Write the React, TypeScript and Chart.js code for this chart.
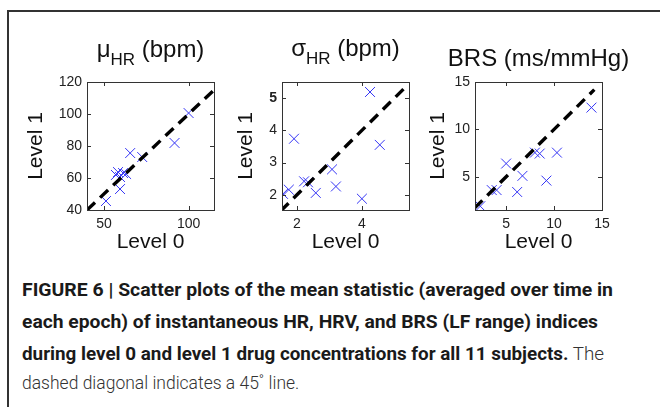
import React, { useEffect, useLayoutEffect, useRef } from 'react';
import { Chart, registerables } from 'chart.js';

Chart.register(...registerables);

// ---------- data ----------
const hrLevel0 = [51.2, 59.5, 57.1, 58.3, 59.5, 61.3, 63.1, 65.5, 72.6, 91.7, 100.0];
const hrLevel1 = [45.6, 53.1, 61.9, 63.7, 60.6, 63.1, 62.5, 75.6, 73.1, 81.9, 100.6];
const hrXTicks = [50, 100];
const hrYTicks = [40, 60, 80, 100, 120];
const hrDiag = [40, 115];

const hrvLevel0 = [1.57, 1.75, 1.91, 2.22, 2.34, 2.58, 3.08, 3.2, 4.0, 4.25, 4.55];
const hrvLevel1 = [2.03, 2.16, 3.74, 2.42, 2.39, 2.06, 2.79, 2.26, 1.88, 5.19, 3.55];
const hrvXTicks = [2, 4];
const hrvYTicks = [2, 3, 4, 5];
const hrvDiag = [1.5, 5.3];

const brsLevel0 = [2.3, 3.5, 4.0, 5.0, 6.15, 6.7, 8.0, 8.5, 9.2, 10.3, 13.9];
const brsLevel1 = [1.9, 3.6, 3.6, 6.4, 3.4, 5.1, 7.55, 7.45, 4.6, 7.55, 12.3];
const brsXTicks = [5, 10, 15];
const brsYTicks = [5, 10, 15];
const brsDiag = [1.7, 14.2];

const xAxisLabel = 'Level 0';
const yAxisLabel = 'Level 1';

const FONT = "'Liberation Sans', Arial, Helvetica, sans-serif";

type Panel = {
  title: { main: string; sub: string; rest: string };
  xs: number[];
  ys: number[];
  xTicks: number[];
  yTicks: number[];
  diag: number[];
  xMin: number; xMax: number; yMin: number; yMax: number;
  boxLeft: number;
  yTitlePad: number;
  titleBaseline: number;
  boldY?: number;
};

const panels: Panel[] = [
  {
    title: { main: 'μ', sub: 'HR', rest: ' (bpm)' },
    xs: hrLevel0, ys: hrLevel1, xTicks: hrXTicks, yTicks: hrYTicks, diag: hrDiag,
    xMin: 40, xMax: 115, yMin: 40, yMax: 120,
    boxLeft: 87, yTitlePad: 7, titleBaseline: 57,
  },
  {
    title: { main: 'σ', sub: 'HR', rest: ' (bpm)' },
    xs: hrvLevel0, ys: hrvLevel1, xTicks: hrvXTicks, yTicks: hrvYTicks, diag: hrvDiag,
    xMin: 1.54, xMax: 5.45, yMin: 1.53, yMax: 5.5,
    boxLeft: 282, yTitlePad: 22, titleBaseline: 56, boldY: 5,
  },
  {
    title: { main: 'BRS (ms/mmHg)', sub: '', rest: '' },
    xs: brsLevel0, ys: brsLevel1, xTicks: brsXTicks, yTicks: brsYTicks, diag: brsDiag,
    xMin: 1.75, xMax: 15, yMin: 1.5, yMax: 15,
    boxLeft: 475, yTitlePad: 21, titleBaseline: 66,
  },
];

const CANVAS_TOP = 20;
const Y_AXIS_W = 70;
const X_AXIS_H = 50;
const PAD_RIGHT = 45;
const CANVAS_W = Y_AXIS_W + 127 + PAD_RIGHT;
const CANVAS_H = 240;

function PanelChart({ p }: { p: Panel }) {
  const ref = useRef<HTMLCanvasElement>(null);
  useEffect(() => {
    if (!ref.current) return;
    const framePlugin = {
      id: 'frame',
      afterDatasetsDraw(chart: any) {
        const { ctx, chartArea: a } = chart;
        const xs = chart.scales.x;
        const ys = chart.scales.y;
        ctx.save();
        ctx.strokeStyle = '#333';
        ctx.lineWidth = 1;
        ctx.strokeRect(Math.round(a.left) + 0.5, Math.round(a.top) + 0.5, Math.round(a.right - a.left), Math.round(a.bottom - a.top));
        const tl = 4;
        ctx.beginPath();
        xs.ticks.forEach((t: any) => {
          const px = Math.round(xs.getPixelForValue(t.value)) + 0.5;
          ctx.moveTo(px, a.bottom); ctx.lineTo(px, a.bottom - tl);
          ctx.moveTo(px, a.top); ctx.lineTo(px, a.top + tl);
        });
        ys.ticks.forEach((t: any) => {
          const py = Math.round(ys.getPixelForValue(t.value)) + 0.5;
          ctx.moveTo(a.left, py); ctx.lineTo(a.left + tl, py);
          ctx.moveTo(a.right, py); ctx.lineTo(a.right - tl, py);
        });
        ctx.stroke();
        // title with subscript
        const cx = (a.left + a.right) / 2;
        const by = p.titleBaseline - CANVAS_TOP;
        ctx.fillStyle = '#111';
        ctx.textBaseline = 'alphabetic';
        ctx.textAlign = 'left';
        const mainFont = `24px ${FONT}`;
        const subFont = `17px ${FONT}`;
        ctx.font = mainFont;
        const wMain = ctx.measureText(p.title.main).width;
        const wRest = ctx.measureText(p.title.rest).width;
        ctx.font = subFont;
        const wSub = ctx.measureText(p.title.sub).width;
        let x = cx - (wMain + wSub + wRest) / 2;
        ctx.font = mainFont;
        ctx.fillText(p.title.main, x, by);
        x += wMain;
        ctx.font = subFont;
        ctx.fillText(p.title.sub, x, by + 8);
        x += wSub;
        ctx.font = mainFont;
        ctx.fillText(p.title.rest, x, by);
        ctx.restore();
      },
    };
    const chart = new Chart(ref.current, {
      type: 'scatter',
      data: {
        datasets: [
          {
            type: 'line',
            data: p.diag.map((v) => ({ x: v, y: v })),
            borderColor: '#000',
            borderWidth: 3.4,
            borderDash: [11, 7],
            pointRadius: 0,
            fill: false,
            order: 1,
          } as any,
          {
            data: p.xs.map((v, i) => ({ x: v, y: p.ys[i] })),
            pointStyle: 'crossRot',
            pointRadius: 7,
            borderColor: '#3535f5',
            backgroundColor: 'transparent',
            borderWidth: 1,
            order: 2,
          },
        ],
      },
      options: {
        animation: false,
        responsive: false,
        maintainAspectRatio: false,
        events: [],
        layout: { padding: { top: 62, right: PAD_RIGHT, left: 0, bottom: 0 } },
        plugins: { legend: { display: false }, tooltip: { enabled: false } },
        scales: {
          x: {
            type: 'linear',
            min: p.xMin,
            max: p.xMax,
            afterBuildTicks: (s: any) => { s.ticks = p.xTicks.map((v) => ({ value: v })); },
            afterFit: (s: any) => { s.height = X_AXIS_H; },
            grid: { display: false, drawTicks: false },
            border: { display: false },
            ticks: { font: { family: FONT, size: 14 }, color: '#222', padding: 6, maxRotation: 0, autoSkip: false },
            title: { display: true, text: xAxisLabel, font: { family: FONT, size: 21 }, color: '#111', padding: { top: 0, bottom: 5 } },
          },
          y: {
            type: 'linear',
            min: p.yMin,
            max: p.yMax,
            afterBuildTicks: (s: any) => { s.ticks = p.yTicks.map((v) => ({ value: v })); },
            afterFit: (s: any) => { s.width = Y_AXIS_W; },
            grid: { display: false, drawTicks: false },
            border: { display: false },
            ticks: {
              font: (c: any) => ({ family: FONT, size: 14, weight: p.boldY !== undefined && c.tick && c.tick.value === p.boldY ? 'bold' : 'normal' }),
              color: '#222', padding: 5, autoSkip: false,
            },
            title: { display: true, text: yAxisLabel, font: { family: FONT, size: 21 }, color: '#111', padding: { top: p.yTitlePad, bottom: 0 } },
          },
        },
      } as any,
      plugins: [framePlugin],
    });
    return () => chart.destroy();
  }, [p]);
  return (
    <canvas
      ref={ref}
      width={CANVAS_W}
      height={CANVAS_H}
      style={{ position: 'absolute', left: p.boxLeft - Y_AXIS_W, top: CANVAS_TOP, width: CANVAS_W, height: CANVAS_H }}
    />
  );
}

function FitLine({ top, left, width, children }: { top: number; left: number; width: number; children: React.ReactNode }) {
  const ref = useRef<HTMLDivElement>(null);
  useLayoutEffect(() => {
    const el = ref.current;
    if (!el) return;
    el.style.transform = 'none';
    const w = el.getBoundingClientRect().width;
    if (w > 0) el.style.transform = `scaleX(${width / w})`;
  }, [width]);
  return (
    <div
      ref={ref}
      style={{
        position: 'absolute', left, top, whiteSpace: 'nowrap', display: 'inline-block',
        transformOrigin: '0 0', fontFamily: "Roboto, 'Liberation Sans', Arial, sans-serif",
        fontSize: 18, lineHeight: '22px', color: '#1a1a1a', fontWeight: 700,
      }}
    >
      {children}
    </div>
  );
}

const light: React.CSSProperties = { fontWeight: 300, color: '#333' };

export default function App() {
  return (
    <div style={{ position: 'fixed', left: 0, top: 0, width: 660, height: 407, overflow: 'hidden', background: '#fff' }}>
      <div style={{ position: 'absolute', left: 7, top: 10, width: 700, height: 500, borderLeft: '2px solid #333', borderTop: '2px solid #333' }} />
      {panels.map((p, i) => (
        <PanelChart key={i} p={p} />
      ))}
      <FitLine left={22} top={279} width={591}>FIGURE 6 | Scatter plots of the mean statistic (averaged over time in</FitLine>
      <FitLine left={22} top={311} width={576}>each epoch) of instantaneous HR, HRV, and BRS (LF range) indices</FitLine>
      <FitLine left={22} top={343} width={582}>
        during level 0 and level 1 drug concentrations for all 11 subjects.<span style={light}> The</span>
      </FitLine>
      <div
        style={{
          position: 'absolute', left: 22, top: 372, whiteSpace: 'nowrap',
          fontFamily: "Roboto, 'Liberation Sans', Arial, sans-serif", fontSize: 17.5, lineHeight: '22px', ...light,
        }}
      >
        dashed diagonal indicates a 45˚ line.
      </div>
    </div>
  );
}
